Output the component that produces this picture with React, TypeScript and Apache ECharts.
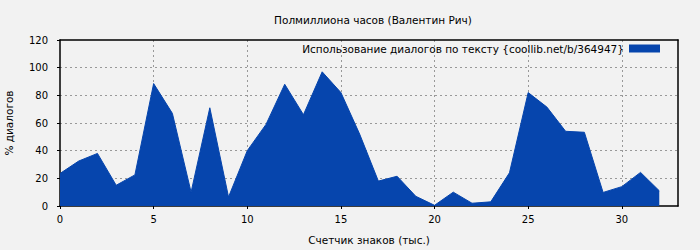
import React, { useEffect, useRef } from "react";
import * as echarts from "echarts";

const titleText = "Полмиллиона часов (Валентин Рич)";
const seriesName = "Использование диалогов по тексту {coollib.net/b/364947}";
const xName = "Счетчик знаков (тыс.)";
const yName = "% диалогов";

const xValues = [0, 1, 2, 3, 4, 5, 6, 7, 8, 9, 10, 11, 12, 13, 14, 15, 16, 17, 18, 19, 20, 21, 22, 23, 24, 25, 26, 27, 28, 29, 30, 31, 32];
const yValues = [23.5, 32.5, 38, 15, 22.5, 88.5, 67, 10, 71, 6.5, 40, 59, 88, 66, 97, 82, 52, 18, 21.5, 7, 0.5, 10, 2, 3, 24, 82, 71.5, 54, 53.3, 9.8, 14, 24.3, 11];

const FONT = "DejaVu Sans";
const BLUE = "#0645ad";
const TXT = 10.5;

export default function App() {
  const ref = useRef<HTMLDivElement>(null);
  useEffect(() => {
    document.body.style.margin = "0";
    const chart = echarts.init(ref.current!, null, { renderer: "svg" });
    const data = xValues.map((x, i) => [x, yValues[i]]);
    const gridLine = { show: true, lineStyle: { color: "#999", type: [2, 3], width: 1 } };
    chart.setOption({
      animation: false,
      backgroundColor: "#f2f2f2",
      textStyle: { fontFamily: FONT },
      title: {
        text: titleText,
        left: 368,
        top: 9,
        textAlign: "center",
        textStyle: { fontSize: TXT, fontWeight: "normal", color: "#000", fontFamily: FONT },
      },
      legend: {
        right: 35,
        top: 38,
        align: "right",
        itemWidth: 31,
        itemHeight: 8,
        itemGap: 10,
        textStyle: { fontSize: TXT, color: "#000", fontFamily: FONT },
        data: [{ name: seriesName, icon: "rect" }],
      },
      grid: { left: 60, right: 22, top: 40, bottom: 44, show: false, outerBoundsMode: "none", containLabel: false },
      xAxis: [
        {
          type: "value",
          min: 0,
          max: 33,
          interval: 5,
          name: xName,
          nameLocation: "middle",
          nameGap: 28,
          nameTextStyle: { fontSize: TXT, color: "#000", fontFamily: FONT },
          axisLine: { show: true, onZero: false, lineStyle: { color: "#000", width: 1.5 } },
          axisTick: { show: true, length: 3, lineStyle: { color: "#000" } },
          axisLabel: { fontSize: 10, color: "#000", margin: 8, showMaxLabel: false, fontFamily: FONT },
          splitLine: { ...gridLine, showMinLine: false, showMaxLine: false },
        },
        {
          type: "value",
          position: "top",
          min: 0,
          max: 33,
          axisLine: { show: true, onZero: false, lineStyle: { color: "#000", width: 1.5 } },
          axisTick: { show: false },
          axisLabel: { show: false },
          splitLine: { show: false },
        },
      ],
      yAxis: [
        {
          type: "value",
          min: 0,
          max: 120,
          interval: 20,
          name: yName,
          nameLocation: "middle",
          nameGap: 46,
          nameTextStyle: { fontSize: TXT, color: "#000", fontFamily: FONT },
          axisLine: { show: true, onZero: false, lineStyle: { color: "#000", width: 1.5 } },
          axisTick: { show: true, length: 3, lineStyle: { color: "#000" } },
          axisLabel: { fontSize: 10, color: "#000", margin: 12, fontFamily: FONT },
          splitLine: { ...gridLine, showMinLine: false, showMaxLine: false },
        },
        {
          type: "value",
          position: "right",
          min: 0,
          max: 120,
          axisLine: { show: true, onZero: false, lineStyle: { color: "#000", width: 1.5 } },
          axisTick: { show: false },
          axisLabel: { show: false },
          splitLine: { show: false },
        },
      ],
      series: [
        {
          name: seriesName,
          type: "line",
          data,
          showSymbol: false,
          symbol: "none",
          color: BLUE,
          lineStyle: { width: 1, color: BLUE },
          areaStyle: { color: BLUE, opacity: 1 },
          z: 1,
        },
      ],
    });
    return () => chart.dispose();
  }, []);
  return <div ref={ref} style={{ width: 700, height: 250 }} />;
}
